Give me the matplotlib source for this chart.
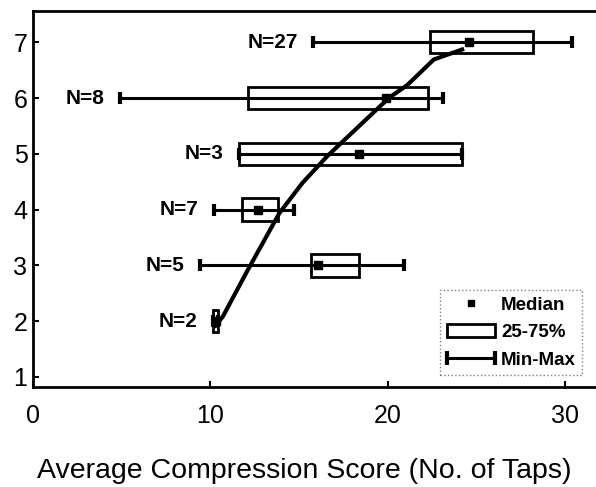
import numpy as np
import matplotlib
matplotlib.use('Agg')
from matplotlib import pyplot as plt
from matplotlib.lines import Line2D
from matplotlib.patches import Rectangle
from matplotlib.legend_handler import HandlerLine2D

# データ (値は図から読み取り)
rows = [7, 6, 5, 4, 3, 2]
n_labels = ['N=27', 'N=8', 'N=3', 'N=7', 'N=5', 'N=2']
mins = [15.8, 4.9, 11.6, 10.2, 9.4, 10.15]
q1 = [22.4, 12.1, 11.6, 11.8, 15.7, 10.15]
med = [24.6, 19.9, 18.4, 12.7, 16.1, 10.3]
q3 = [28.2, 22.3, 24.2, 13.8, 18.4, 10.45]
maxs = [30.4, 23.1, 24.2, 14.7, 20.9, 10.45]

# 近似曲線 (図からなぞった点)
fit_x = [10.3, 10.7, 12.1, 13.9, 15.2, 16.6, 18.6, 20.1, 21.1, 22.6, 24.2]
fit_y = [1.92, 2.08, 2.91, 3.94, 4.48, 4.96, 5.56, 6.01, 6.23, 6.69, 6.87]

plt.rcParams['font.family'] = 'Liberation Sans'
plt.rcParams['xtick.direction'] = 'in'
plt.rcParams['ytick.direction'] = 'in'

fig = plt.figure(figsize=(5.96, 4.87), dpi=100)
ax = fig.add_axes([33/596, 100/487, 563/596, 376/487])

# ひげ (最小-最大)
xerr = [np.array(med) - np.array(mins), np.array(maxs) - np.array(med)]
ax.errorbar(med, rows, xerr=xerr, fmt='none', ecolor='black',
            elinewidth=2.2, capsize=4.5, capthick=3)
# 箱 (25-75%)
ax.barh(rows, np.array(q3) - np.array(q1), left=q1, height=0.4,
        fill=False, edgecolor='black', linewidth=2)
# 中央値
ax.plot(med, rows, 's', color='black', markersize=6)
# 曲線
ax.plot(fit_x, fit_y, color='black', lw=3)

for r, lo, lab in zip(rows, mins, n_labels):
    ax.annotate(lab, (lo, r), xytext=(-11, 0), textcoords='offset points',
                ha='right', va='center', fontsize=15, fontweight='bold')

# 凡例
h_med = Line2D([], [], marker='s', color='black', linestyle='none', markersize=5)
h_box = Rectangle((0, 0), 1, 1, facecolor='white', edgecolor='black', lw=2)
h_mm = Line2D([], [], color='black', lw=2.2, marker='|', markersize=10,
              markeredgewidth=3)
leg = ax.legend([h_med, h_box, h_mm], ['Median', '25-75%', 'Min-Max'],
                loc='upper left', bbox_to_anchor=(0.723, 0.258), borderaxespad=0,
                handler_map={h_med: HandlerLine2D(numpoints=1),
                             h_mm: HandlerLine2D(numpoints=2, marker_pad=0)},
                fancybox=False, edgecolor='gray', framealpha=1,
                prop=dict(weight='bold', size=13.5), handlelength=2.6,
                handletextpad=0.3, labelspacing=0.55, borderpad=0.35)
leg.get_frame().set_linestyle(':')

# 軸
ax.set_xlim(0, 31.75)
ax.set_ylim(0.82, 7.56)
ax.set_xticks([0, 10, 20, 30])
ax.set_yticks([1, 2, 3, 4, 5, 6, 7])
ax.spines['right'].set_visible(False)
for s in ['left', 'bottom', 'top']:
    ax.spines[s].set_linewidth(2)
ax.tick_params(labelsize=18, length=4, width=1.5)
ax.tick_params(axis='x', pad=12)
ax.tick_params(axis='y', pad=4)
ax.set_xlabel('Average Compression Score (No. of Taps)', fontsize=20.5, labelpad=22)
ax.xaxis.label.set_x(0.481)

fig.savefig('out.png', dpi=100)
plt.close()
